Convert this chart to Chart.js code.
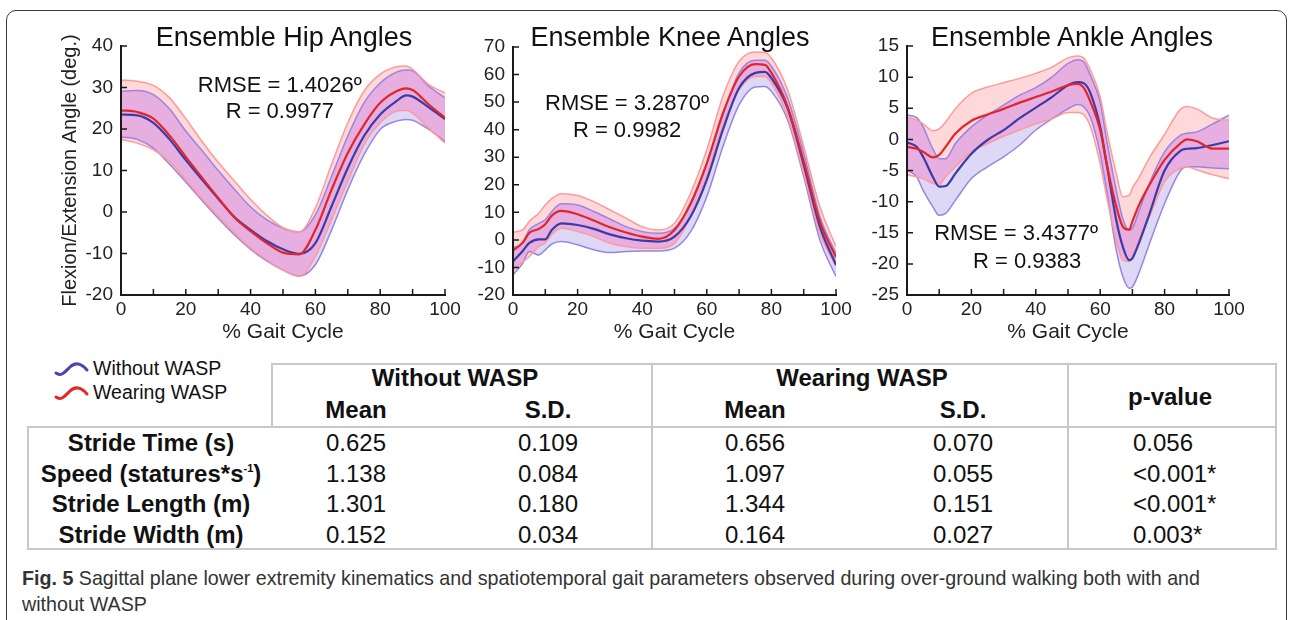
<!DOCTYPE html>
<html>
<head>
<meta charset="utf-8">
<script src="https://cdn.jsdelivr.net/npm/chart.js@4.4.1/dist/chart.umd.min.js"></script>
<style>
  body { margin: 0; width: 1290px; height: 620px; overflow: hidden; position: relative; background: #fff;
         font-family: "Liberation Sans", Arial, sans-serif; color: #111; }
  #frame { position: absolute; left: 6px; top: 10px; width: 1279px; height: 660px;
           border: 1.5px solid #3a3a3a; border-radius: 10px; }
  canvas { position: absolute; }
  .c { position: absolute; transform: translate(-50%, -50%); white-space: nowrap; }
  .l { position: absolute; transform: translateY(-50%); white-space: nowrap; }
  .title { font-size: 27px; color: #111; }
  .hd { font-weight: bold; font-size: 24px; }
  .val { font-size: 24px; }
  .hl { position: absolute; height: 2px; background: #c8c8c8; }
  .vl { position: absolute; width: 2px; background: #c8c8c8; }
  sup { font-size: 11px; vertical-align: 10px; line-height: 0; }
  #legend div { position: absolute; font-size: 19.5px; white-space: nowrap; }
  #cap { position: absolute; left: 22px; top: 565px; transform-origin: 0 0; font-size: 21px; color: #333;
         line-height: 26px; white-space: nowrap; }
</style>
</head>
<body>
<div id="frame"></div>

<canvas id="hip" width="410" height="330" style="left:55px;top:20px"></canvas>
<canvas id="knee" width="395" height="330" style="left:460px;top:20px"></canvas>
<canvas id="ankle" width="390" height="330" style="left:858px;top:20px"></canvas>

<div class="c title" style="left:284px;top:37px">Ensemble Hip Angles</div>
<div class="c title" style="left:670px;top:37px">Ensemble Knee Angles</div>
<div class="c title" style="left:1072px;top:37px">Ensemble Ankle Angles</div>

<div id="legend">
  <svg style="position:absolute;left:54px;top:361px" width="40" height="40">
    <path d="M2,12 C7,16 11,11 16,6 C21,1 27,2 33,9" fill="none" stroke="#4a46b4" stroke-width="3" stroke-linecap="round"/>
    <path d="M2,36 C7,40 11,35 16,30 C21,25 27,26 33,33" fill="none" stroke="#e02a24" stroke-width="3" stroke-linecap="round"/>
  </svg>
  <div style="left:93px;top:357px">Without WASP</div>
  <div style="left:93px;top:381px">Wearing WASP</div>
</div>

<div id="table"></div>

<div id="cap">
  <div class="l1"><b>Fig. 5</b> Sagittal plane lower extremity kinematics and spatiotemporal gait parameters observed during over-ground walking both with and</div>
  <div>without WASP</div>
</div>

<script>
// % gait cycle sample points (x) and ensemble curves
const hipPct = [0, 5, 10, 15, 20, 25, 30, 35, 40, 45, 50, 55, 60, 65, 70, 75, 80, 85, 88, 90, 95, 100];
const hipWearMean = [24.5, 24.1, 22.5, 18.4, 13.3, 8.3, 3.4, -1.3, -4.6, -7.5, -9.8, -10.2, -4.3, 5.4, 14.2, 21, 26.3, 29.1, 29.8, 29.4, 25.9, 22.7];
const hipWearUp = [31.8, 31.5, 30.5, 27.5, 22.5, 17, 12, 7.5, 3, -0.8, -3.8, -4.8, 1, 11.5, 21.5, 29.1, 33.2, 35, 35.2, 34.4, 30.7, 28.7];
const hipWearLo = [17.5, 16.6, 15, 12.2, 7.8, 3.2, -1, -5, -8.7, -11.5, -14, -15.5, -10.7, -1.9, 7.4, 16.2, 21.5, 24.3, 24.5, 23.8, 20.2, 16.6];
const hipWoMean = [23.5, 23.3, 21.5, 17.5, 12.5, 7.8, 3.2, -1.2, -4.3, -7, -9, -10.1, -7.5, 1.4, 10.6, 18.3, 23.5, 26.7, 28.1, 27.8, 25.2, 22.4];
const hipWoUp = [29.1, 29.3, 28.3, 24.8, 19.5, 14.8, 10, 5.5, 1.2, -1.9, -3.9, -4.8, -0.7, 8.6, 18.3, 26.3, 31.1, 33.7, 34.2, 34, 30.3, 27.5];
const hipWoLo = [18.1, 17.5, 15.4, 11.5, 7.2, 2.8, -1.5, -5.5, -9, -11.8, -14, -15.4, -12.7, -4.3, 5.4, 13.8, 19.9, 21.9, 22.3, 22.1, 19.9, 17];

const kneePct = [0, 3, 5, 8, 10, 12, 15, 20, 25, 30, 35, 40, 45, 50, 55, 60, 65, 70, 75, 78, 80, 85, 90, 95, 100];
const kneeWearMean = [-3.9, -1, 2.5, 4, 5.7, 8.8, 10.5, 9.3, 7, 4.6, 2.7, 1.2, 0.4, 3.6, 13.3, 27.8, 46, 59.3, 63.8, 63.5, 60.6, 48.4, 28.5, 6.7, -6.3];
const kneeWearUp = [2.8, 3.6, 6.7, 9.7, 12.7, 15, 16.7, 16.1, 13.9, 10.9, 7.9, 4.8, 3.6, 6, 17, 32.7, 52.1, 64.8, 68.2, 68, 66, 54.5, 33.9, 12.1, -2.4];
const kneeWearLo = [-10.7, -8, -6.1, -2.4, -1, 2, 4.2, 3, 1.2, -1.2, -2.4, -3, -3, -1.2, 8.5, 23, 41.2, 54.5, 59.3, 59.3, 56.9, 44.8, 24.2, 2.4, -9.7];
const kneeWoMean = [-7.9, -4, -1.2, 0.2, 0.2, 3.6, 6, 5.4, 4, 2, 0.6, -0.3, -0.6, 1.2, 8.5, 21.8, 40, 55.1, 60.6, 61, 58.7, 47.8, 27.2, 4.8, -9.1];
const kneeWoUp = [-3, -1, 3.6, 6, 7.3, 10.3, 13.1, 12.7, 10.3, 7.6, 4.8, 3, 2.4, 4.2, 12.7, 27.8, 45.4, 60.6, 65.2, 65.2, 63, 51.5, 31.5, 8.5, -5.1];
const kneeWoLo = [-12.7, -8.5, -4.2, -5.5, -3.6, -1.5, -0.6, -1.8, -3.6, -4.6, -4.2, -4, -4, -3, 3, 15.7, 33.9, 49, 55.5, 55.7, 53.9, 43.6, 23, 0, -13.3];

const anklePct = [0, 3, 5, 8, 10, 12, 15, 20, 25, 30, 35, 40, 45, 50, 53, 55, 57, 60, 62, 65, 67, 69, 70, 72, 75, 80, 85, 87, 90, 95, 100];
const ankleWearMean = [-1.2, -1.5, -2, -2.9, -2.5, -1.2, 0.9, 3, 4, 4.9, 5.9, 6.8, 7.7, 8.7, 8.9, 8.2, 6, 1.5, -3.9, -10.8, -14, -14.5, -13.2, -10.6, -7.6, -3.3, -0.6, 0, -0.3, -1.5, -1.5];
const ankleWearUp = [3.5, 3.1, 2.5, 1.4, 1.7, 2.8, 4.9, 7.4, 8.4, 9.1, 9.8, 10.6, 11.6, 13.1, 13.4, 13, 11.1, 6.8, 1.5, -5.5, -9.2, -9, -7.8, -6.2, -3.2, 0.8, 4.9, 5.3, 4.9, 3.4, 3.1];
const ankleWearLo = [-5.7, -6, -6.3, -7.1, -7.2, -6, -4.4, -2, -0.7, 0.5, 1.5, 2.5, 3.3, 4.3, 4.3, 3.9, 2, -3.9, -9.2, -16.2, -19.4, -19.6, -18.8, -16.2, -12.8, -6.8, -4.6, -4.4, -4.9, -5.7, -6.3];
const ankleWoMean = [-0.5, -1.2, -2.8, -6, -7.6, -7.5, -5.5, -2.3, -0.1, 1.5, 3.4, 5.1, 6.8, 8.7, 9.2, 9, 7.4, 2, -3.9, -13, -17.2, -19.4, -19.1, -16.7, -12.4, -5, -1.8, -1.5, -1.4, -0.9, -0.3];
const ankleWoUp = [3.9, 3.5, 2, -1.5, -3.1, -3.1, -0.7, 2, 3.9, 5.5, 7.1, 8.3, 10, 12.2, 12.8, 12.4, 10.2, 6, -0.1, -8.2, -12.7, -14.6, -14.3, -11.6, -7.4, -2, 0.7, 1, 1.2, 2.5, 3.9];
const ankleWoLo = [-4.9, -6, -8.2, -10.8, -12.2, -11.9, -9.8, -6.3, -4.4, -2.8, -0.9, 1.5, 3.3, 4.9, 5.6, 5.2, 3.5, -2.3, -8.2, -17.8, -22, -23.9, -23.7, -21.5, -17.2, -10.3, -5, -4.4, -4.4, -4.6, -4.7];

// spatiotemporal table
const rowLabels = ["Stride Time (s)", "Speed (statures*s<sup>-1</sup>)", "Stride Length (m)", "Stride Width (m)"];
const withoutMean = ["0.625", "1.138", "1.301", "0.152"];
const withoutSD = ["0.109", "0.084", "0.180", "0.034"];
const wearingMean = ["0.656", "1.097", "1.344", "0.164"];
const wearingSD = ["0.070", "0.055", "0.151", "0.027"];
const pValues = ["0.056", "<0.001*", "<0.001*", "0.003*"];

Chart.defaults.font.family = '"Liberation Sans", Arial, sans-serif';

const RED = "#e0262a", BLUE = "#3d3aa6";
const RED_EDGE = "#ff9a9a", BLUE_EDGE = "#9a84e2";
const PINK = "#ffd8da", LAVENDER = "#dcd8f5", OVERLAP = "#e7afe0";

// lets a dataset's band fill use its own canvas composite mode
// (the fill is drawn by the filler just before the dataset itself)
function setNextBlend(chart, i) {
    const ds = chart.data.datasets[i];
    chart.ctx.globalCompositeOperation = (ds && ds.blend) || "source-over";
}
const blendFills = {
    id: "blendFills",
    beforeDatasetsDraw(chart) { setNextBlend(chart, chart.data.datasets.length - 1); },
    beforeDatasetDraw(chart) { chart.ctx.globalCompositeOperation = "source-over"; },
    afterDatasetDraw(chart, args) { setNextBlend(chart, args.index - 1); },
    afterDatasetsDraw(chart) { chart.ctx.globalCompositeOperation = "source-over"; }
};

// MATLAB style tick marks pointing into the plot
const innerTicks = {
    id: "innerTicks",
    afterDatasetsDraw(chart) {
        const { ctx, chartArea: a, scales: { x, y } } = chart;
        ctx.save();
        ctx.strokeStyle = "#1a1a1a";
        ctx.lineWidth = 1.5;
        ctx.beginPath();
        for (let v = 0; v <= 100; v += 10) {
            const px = x.getPixelForValue(v);
            ctx.moveTo(px, a.bottom);
            ctx.lineTo(px, a.bottom - 6);
        }
        y.ticks.forEach(t => {
            const py = y.getPixelForValue(t.value);
            ctx.moveTo(a.left, py);
            ctx.lineTo(a.left + 6, py);
        });
        ctx.stroke();
        ctx.restore();
    }
};

function notesPlugin(notes) {
    return {
        id: "notes",
        afterDraw(chart) {
            const { ctx, scales: { x, y } } = chart;
            ctx.save();
            ctx.font = '22px "Liberation Sans", Arial, sans-serif';
            ctx.fillStyle = "#111";
            ctx.textAlign = "center";
            ctx.textBaseline = "middle";
            notes.forEach(n => ctx.fillText(n.text, x.getPixelForValue(n.x), y.getPixelForValue(n.y)));
            ctx.restore();
        }
    };
}

function gaitChart(id, pct, s, opt) {
    const pts = arr => pct.map((x, i) => ({ x, y: arr[i] }));
    return new Chart(document.getElementById(id), {
        type: "line",
        data: {
            datasets: [
                { data: pts(s.wearMean), borderColor: RED, borderWidth: 2.2 },
                { data: pts(s.woMean), borderColor: BLUE, borderWidth: 2.2 },
                { data: pts(s.wearUp), borderColor: RED_EDGE, borderWidth: 1.5 },
                { data: pts(s.wearLo), borderColor: RED_EDGE, borderWidth: 1.5 },
                { data: pts(s.woUp), borderColor: BLUE_EDGE, borderWidth: 1.5 },
                { data: pts(s.woLo), borderColor: BLUE_EDGE, borderWidth: 1.5 },
                // band fills, drawn from the last one up: blue band, overlap, red-only part
                { data: pts(s.wearUp), borderWidth: 0, fill: 3, backgroundColor: PINK, blend: "destination-over" },
                { data: pts(s.wearUp), borderWidth: 0, fill: 3, backgroundColor: OVERLAP, blend: "source-atop" },
                { data: pts(s.woUp), borderWidth: 0, fill: 5, backgroundColor: LAVENDER }
            ]
        },
        options: {
            responsive: false,
            animation: false,
            events: [],
            layout: { padding: { top: opt.padTop, right: opt.padRight, left: 0, bottom: 0 } },
            plugins: { legend: { display: false }, tooltip: { enabled: false } },
            elements: { point: { radius: 0 }, line: { cubicInterpolationMode: "monotone" } },
            scales: {
                x: {
                    type: "linear", min: 0, max: 100,
                    ticks: { stepSize: 20, padding: 3, color: "#222", font: { size: 19 } },
                    grid: { display: false, drawTicks: false },
                    border: { color: "#1a1a1a", width: 2, z: 1 },
                    title: { display: true, text: "% Gait Cycle", color: "#222", font: { size: 21 }, padding: { top: 0, bottom: 5 } },
                    afterFit: sc => { sc.height = 55; }
                },
                y: {
                    min: opt.min, max: opt.max,
                    ticks: { stepSize: opt.step, padding: 8, color: "#222", font: { size: 19 } },
                    grid: { display: false, drawTicks: false },
                    border: { color: "#1a1a1a", width: 2, z: 1 },
                    title: { display: !!opt.yTitle, text: opt.yTitle || "", color: "#222", font: { size: 20 }, padding: { top: 3, bottom: 0 } },
                    afterFit: sc => { sc.width = opt.yWidth; }
                }
            }
        },
        plugins: [blendFills, innerTicks, notesPlugin(opt.notes)]
    });
}

gaitChart("hip", hipPct,
    { wearMean: hipWearMean, wearUp: hipWearUp, wearLo: hipWearLo, woMean: hipWoMean, woUp: hipWoUp, woLo: hipWoLo },
    { min: -20, max: 40, step: 10, yWidth: 66, padTop: 26, padRight: 20, yTitle: "Flexion/Extension Angle (deg.)",
      notes: [{ x: 49, y: 30.3, text: "RMSE = 1.4026º" }, { x: 49, y: 24.1, text: "R = 0.9977" }] });

gaitChart("knee", kneePct,
    { wearMean: kneeWearMean, wearUp: kneeWearUp, wearLo: kneeWearLo, woMean: kneeWoMean, woUp: kneeWoUp, woLo: kneeWoLo },
    { min: -20, max: 70, step: 10, yWidth: 53, padTop: 27, padRight: 19,
      notes: [{ x: 35.3, y: 49.3, text: "RMSE = 3.2870º" }, { x: 35.3, y: 39.5, text: "R = 0.9982" }] });

gaitChart("ankle", anklePct,
    { wearMean: ankleWearMean, wearUp: ankleWearUp, wearLo: ankleWearLo, woMean: ankleWoMean, woUp: ankleWoUp, woLo: ankleWoLo },
    { min: -25, max: 15, step: 5, yWidth: 49, padTop: 26, padRight: 19,
      notes: [{ x: 33.9, y: -15.2, text: "RMSE = 3.4377º" }, { x: 37.3, y: -19.7, text: "R = 0.9383" }] });

// table
const table = document.getElementById("table");
function cell(html, x, y, cls) {
    const d = document.createElement("div");
    d.className = "c " + cls;
    d.style.left = x + "px";
    d.style.top = y + "px";
    d.innerHTML = html;
    table.appendChild(d);
}
function line(cls, x, y, len) {
    const d = document.createElement("div");
    d.className = cls;
    d.style.left = x + "px";
    d.style.top = y + "px";
    if (cls === "hl") d.style.width = len + "px"; else d.style.height = len + "px";
    table.appendChild(d);
}
line("hl", 271, 363, 1006);
line("hl", 27, 426, 1250);
line("hl", 27, 548, 1250);
line("vl", 271, 363, 65);
line("vl", 27, 426, 124);
line("vl", 651, 363, 187);
line("vl", 1067, 363, 187);
line("vl", 1275, 363, 187);

cell("Without WASP", 455, 378, "hd");
cell("Wearing WASP", 862, 378, "hd");
cell("Mean", 356, 410, "hd");
cell("S.D.", 548, 410, "hd");
cell("Mean", 755, 410, "hd");
cell("S.D.", 963, 410, "hd");
cell("p-value", 1170, 397, "hd");

const rowY = [443, 474, 504, 535];
rowLabels.forEach((lab, i) => {
    const y = rowY[i];
    cell(lab, 151, y, "hd");
    cell(withoutMean[i], 356, y, "val");
    cell(withoutSD[i], 548, y, "val");
    cell(wearingMean[i], 755, y, "val");
    cell(wearingSD[i], 963, y, "val");
    const p = document.createElement("div");
    p.className = "l val";
    p.style.left = "1133px";
    p.style.top = y + "px";
    p.textContent = pValues[i];
    table.appendChild(p);
});

// fit the caption to the width of the original line
const cap = document.getElementById("cap");
const w = cap.querySelector(".l1").getBoundingClientRect().width;
cap.style.transform = "scaleX(" + (1178 / w) + ")";
</script>
</body>
</html>
